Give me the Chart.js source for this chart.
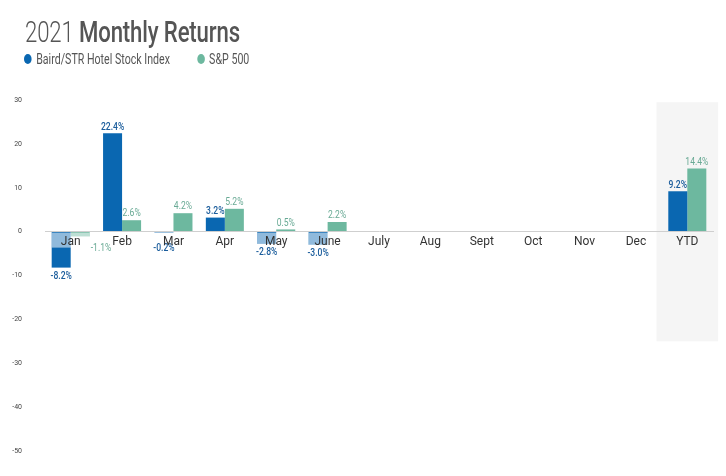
<!DOCTYPE html>
<html>
<head>
<meta charset="utf-8">
<script src="https://cdn.jsdelivr.net/npm/chart.js@4"></script>
<style>
  body { margin: 0; background: #fff; font-family: Roboto, sans-serif; }
  #wrap { position: relative; width: 726px; height: 476px; }
  #title { position: absolute; left: 25px; top: 15px; font-size: 29px; color: #555; white-space: nowrap;
           transform: scaleX(0.765); transform-origin: 0 0; letter-spacing: -0.2px; }
  #title .light { font-weight: 300; }
  #title b { font-weight: 500; }
  #legend { position: absolute; left: 24px; top: 51px; font-size: 14px; color: #555; white-space: nowrap;
            transform: scaleX(0.76); transform-origin: 0 0; }
  #legend span { display: inline-block; margin-right: 32px; }
  #legend i { display: inline-block; width: 10px; height: 10px; border-radius: 50%; margin-right: 6px; vertical-align: 0px; }
  canvas { position: absolute; left: 0; top: 0; }
</style>
</head>
<body>
<div id="wrap">
  <canvas id="chart" width="726" height="476"></canvas>
  <div id="title"><span class="light">2021</span> <b>Monthly Returns</b></div>
  <div id="legend">
    <span><i style="background:#0a67b1"></i>Baird/STR Hotel Stock Index</span>
    <span><i style="background:#6db89f"></i>S&amp;P 500</span>
  </div>
</div>
<script>
// Chart data
const months = ['Jan', 'Feb', 'Mar', 'Apr', 'May', 'June', 'July', 'Aug', 'Sept', 'Oct', 'Nov', 'Dec', 'YTD'];
const hotelIndex = [-8.2, 22.4, -0.2, 3.2, -2.8, -3.0, null, null, null, null, null, null, 9.2];
const sp500 = [-1.1, 2.6, 4.2, 5.2, 0.5, 2.2, null, null, null, null, null, null, 14.4];
const yTicks = [30, 20, 10, 0, -10, -20, -30, -40, -50];

const blue = '#0a67b1';
const green = '#6db89f';

// Grey band behind YTD
const ytdBand = {
    id: 'ytdBand',
    beforeDatasetsDraw(chart) {
        const {ctx, scales: {x, y}} = chart;
        const i = months.indexOf('YTD');
        const cx = x.getPixelForValue(i);
        const w = (x.getPixelForValue(1) - x.getPixelForValue(0)) * 1.2;
        ctx.save();
        ctx.fillStyle = '#f5f5f5';
        ctx.fillRect(cx - w / 2, y.getPixelForValue(29.5), w, y.getPixelForValue(-25) - y.getPixelForValue(29.5));
        ctx.restore();
    }
};

// condensed text helper
function narrowText(ctx, text, x, y, sx) {
    ctx.save();
    ctx.translate(x, y);
    ctx.scale(sx, 1);
    ctx.fillText(text, 0, 0);
    ctx.restore();
}

// Light boxes under month labels + value labels
const valueLabels = {
    id: 'valueLabels',
    afterDatasetsDraw(chart) {
        const {ctx, scales: {y}} = chart;
        const zero = y.getPixelForValue(0);
        const m0 = chart.getDatasetMeta(0);
        const m1 = chart.getDatasetMeta(1);
        ctx.save();
        ctx.fillStyle = 'rgba(255,255,255,0.55)';
        m0.data.forEach((bar, i) => {
            if (!(hotelIndex[i] < 0 || sp500[i] < 0)) return;
            const other = m1.data[i];
            const left = bar.x - bar.width / 2;
            const right = other.x + other.width / 2;
            ctx.fillRect(left, zero + 1, right - left, 15);
        });

        [m0, m1].forEach((meta, d) => {
            const values = d === 0 ? hotelIndex : sp500;
            ctx.fillStyle = d === 0 ? '#1b5d9c' : '#69aa95';
            ctx.font = (d === 0 ? '500 ' : '400 ') + '11px Roboto';
            meta.data.forEach((bar, i) => {
                const v = values[i];
                if (v === null) return;
                const text = v.toFixed(1) + '%';
                ctx.textAlign = 'center';
                if (v >= 0) {
                    ctx.textBaseline = 'bottom';
                    narrowText(ctx, text, bar.x, bar.y - 1, 0.78);
                } else if (d === 1) {
                    ctx.textBaseline = 'top';
                    ctx.textAlign = 'left';
                    narrowText(ctx, text, bar.x + bar.width / 2 + 1, zero + 11, 0.78);
                } else {
                    ctx.textBaseline = 'top';
                    narrowText(ctx, text, bar.x, Math.max(bar.y + 3, zero + 11), 0.78);
                }
            });
        });
        ctx.restore();
    }
};

new Chart(document.getElementById('chart'), {
    type: 'bar',
    data: {
        labels: months,
        datasets: [
            { label: 'Baird/STR Hotel Stock Index', data: hotelIndex, backgroundColor: blue },
            { label: 'S&P 500', data: sp500, backgroundColor: green }
        ]
    },
    options: {
        responsive: false,
        animation: false,
        layout: { padding: { top: 100, bottom: 25, left: 0, right: 13 } },
        categoryPercentage: 0.74,
        barPercentage: 1.0,
        plugins: {
            legend: { display: false },
            tooltip: { enabled: false }
        },
        scales: {
            x: {
                position: { y: 0 },
                grid: { display: false, drawTicks: false },
                border: { display: true, color: '#cfcfcf', width: 1, z: 1 },
                ticks: { color: '#333', font: { family: 'Roboto', size: 12 }, padding: 3, z: 1 }
            },
            y: {
                min: -50,
                max: 30,
                afterFit(scale) { scale.width = 45; },
                afterBuildTicks(scale) { scale.ticks = yTicks.map(v => ({ value: v })); },
                grid: { display: false },
                border: { display: false },
                ticks: { color: '#444', font: { family: 'Roboto', size: 7 }, padding: 15 }
            }
        }
    },
    plugins: [ytdBand, valueLabels]
});
</script>
</body>
</html>
